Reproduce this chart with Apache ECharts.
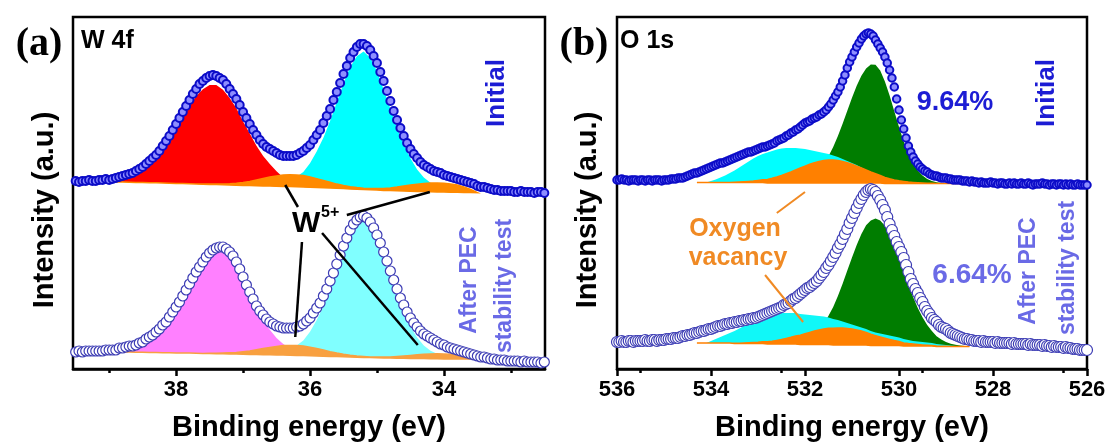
<!DOCTYPE html>
<html><head><meta charset="utf-8">
<script src="https://cdn.jsdelivr.net/npm/echarts@6/dist/echarts.min.js"></script>
<style>html,body{margin:0;padding:0;background:#fff}#c{width:1109px;height:444px}</style>
</head><body><div id="c"></div>
<script>
// ---------- Panel (a) W 4f : measured spectra ----------
const xA = [
39.5,39.45,39.4,39.35,39.3,39.25,39.2,39.15,39.1,39.05,39,38.95,38.9,38.85,38.8,38.75,38.7,38.65,38.6,38.55,
38.5,38.45,38.4,38.35,38.3,38.25,38.2,38.15,38.1,38.05,38,37.95,37.9,37.85,37.8,37.75,37.7,37.65,37.6,37.55,
37.5,37.45,37.4,37.35,37.3,37.25,37.2,37.15,37.1,37.05,37,36.95,36.9,36.85,36.8,36.75,36.7,36.65,36.6,36.55,
36.5,36.45,36.4,36.35,36.3,36.25,36.2,36.15,36.1,36.05,36,35.95,35.9,35.85,35.8,35.75,35.7,35.65,35.6,35.55,
35.5,35.45,35.4,35.35,35.3,35.25,35.2,35.15,35.1,35.05,35,34.95,34.9,34.85,34.8,34.75,34.7,34.65,34.6,34.55,
34.5,34.45,34.4,34.35,34.3,34.25,34.2,34.15,34.1,34.05,34,33.95,33.9,33.85,33.8,33.75,33.7,33.65,33.6,33.55,
33.5,33.45,33.4,33.35,33.3,33.25,33.2,33.15,33.1,33.05,33,32.95,32.9,32.85,32.8,32.75,32.7,32.65,32.6,32.55,32.5];
const initialW = [
188,187,188,188,189,188,188,189,189,190,189,190,191,192,193,194,195,196,198,200,
202,205,208,211,214,218,223,228,233,239,245,251,257,263,269,275,280,285,288,291,
293,294,293,291,289,285,280,275,270,264,257,251,245,239,234,229,225,222,220,218,
216,214,213,213,213,213,214,216,218,221,224,229,234,239,246,253,260,269,277,286,
295,303,311,317,322,325,325,323,319,313,306,297,288,278,268,258,249,241,233,226,
220,215,211,207,204,202,200,198,197,196,194,193,192,191,190,189,188,187,186,185,
183,182,182,181,180,179,179,178,178,178,178,177,177,178,177,177,177,176,177,177,176];
const afterW = [
17,18,17,18,18,18,18,18,18,19,19,19,19,21,21,22,23,23,24,26,
27,30,32,34,37,40,44,47,52,57,62,67,73,79,85,91,97,102,107,112,
116,119,121,122,122,120,117,113,107,100,92,84,77,70,63,58,54,50,47,45,
43,42,41,41,41,41,42,43,45,48,51,56,61,66,73,80,88,96,105,114,
123,131,139,145,149,152,153,151,147,141,134,126,117,108,98,89,80,71,64,57,
51,46,42,38,35,33,31,29,27,25,24,22,21,20,19,18,17,16,15,14,
13,12,12,11,10,10,9,9,9,8,8,8,8,7,8,7,7,7,7,6,7];

// ---------- Panel (a) fitted components (height above baseline) ----------
const xFitA = [
38.9,38.8,38.7,38.6,38.5,38.4,38.3,38.2,38.1,38,
37.9,37.8,37.7,37.6,37.5,37.4,37.3,37.2,37.1,37,
36.9,36.8,36.7,36.6,36.5,36.4,36.3,36.2,36.1,36,
35.9,35.8,35.7,35.6,35.5,35.4,35.3,35.2,35.1,35,
34.9,34.8,34.7,34.6,34.5,34.4,34.3,34.2,34.1,34,
33.9,33.8,33.7,33.6,33.5];
const baseA1 = [
187,187,186.8,186.6,186.5,186.3,186.2,186,185.8,185.6,
185.4,185.2,185,184.8,184.6,184.4,184.2,184,183.8,183.6,
183.4,183.3,183.1,183,182.8,182.6,182.4,182.2,182,181.8,
181.5,181.2,181,180.7,180.4,180.1,179.8,179.5,179.2,178.9,
178.6,178.4,178.2,178,177.8,177.6,177.4,177.2,177,176.9,
176.8,176.7,176.6,176.5,176.4];
const w6a1 = [
0,2,4,7,11,17,24,33,43,54,
66,77,88,95,99.5,99.5,95,87,77,64,
52,40,30,22,15,9,5,3,1,0,
0,0,0,0,0,0,0,0,0,0,
0,0,0,0,0,0,0,0,0,0,
0,0,0,0,0];
const w6b1 = [
0,0,0,0,0,0,0,0,0,0,
0,0,0,0,0,0,0,0,0,0,
0,0,0,0,0,3,6,10,15,24,
36,50,67,86,105,122,133,138,132,119,
101,82,63,47,33,22,14,9,5,2,
0,0,0,0,0];
const w5p1 = [
0,0,0,0,0,0,0,0,0,0,
0,0.1,0.1,0.2,0.3,0.5,0.8,1.3,2,3,
4.2,5.7,7.3,8.9,10.3,11.4,11.9,11.9,11.4,10.3,
8.9,7.3,5.7,4.2,3,2.1,1.6,1.3,1.2,1.5,
1.9,2.7,3.7,4.9,6.1,7.2,8.2,8.8,9,8.8,
8.2,7.2,5.5,3,0];
const baseA2 = [
17,17,16.9,16.8,16.7,16.6,16.5,16.3,16.2,16.1,
16,15.9,15.7,15.6,15.5,15.3,15.2,15.1,14.9,14.8,
14.6,14.5,14.3,14.2,14,13.9,13.7,13.6,13.4,13.2,
13,12.8,12.6,12.4,12.2,12,11.8,11.6,11.4,11.2,
11,10.9,10.8,10.7,10.6,10.5,10.4,10.3,10.2,10.1,
10,10,10,10,10];
const w6a2 = [
0,2,4,7,10,14,19,25,33,43,
54,65,77,89,97,101.5,101.5,95,85,72,
58,45,34,25,17,11,7,4,2,1,
0,0,0,0,0,0,0,0,0,0,
0,0,0,0,0,0,0,0,0,0,
0,0,0,0,0];
const w6b2 = [
0,0,0,0,0,0,0,0,0,0,
0,0,0,0,0,0,0,0,0,0,
0,0,0,0,0,3,6,10,15,24,
36,50,67,85,104,121,132,137,131,118,
100,81,62,46,32,21,13,8,5,2,
0,0,0,0,0];
const w5p2 = [
0,0,0,0,0,0,0,0,0,0,
0,0,0,0,0.2,0.4,0.7,1.1,1.7,2.5,
3.5,4.7,6.1,7.4,8.6,9.5,9.9,9.9,9.5,8.6,
7.4,6.1,4.7,3.5,2.5,1.7,1.2,0.9,0.7,0.7,
0.9,1.2,1.8,2.4,3,3.7,4.3,4.7,5,5,
4.7,4.3,3.7,2,0];

// ---------- Panel (b) O 1s : measured spectra ----------
const xB = [
536,535.95,535.9,535.85,535.8,535.75,535.7,535.65,535.6,535.55,535.5,535.45,535.4,535.35,535.3,535.25,535.2,535.15,535.1,535.05,
535,534.95,534.9,534.85,534.8,534.75,534.7,534.65,534.6,534.55,534.5,534.45,534.4,534.35,534.3,534.25,534.2,534.15,534.1,534.05,
534,533.95,533.9,533.85,533.8,533.75,533.7,533.65,533.6,533.55,533.5,533.45,533.4,533.35,533.3,533.25,533.2,533.15,533.1,533.05,
533,532.95,532.9,532.85,532.8,532.75,532.7,532.65,532.6,532.55,532.5,532.45,532.4,532.35,532.3,532.25,532.2,532.15,532.1,532.05,
532,531.95,531.9,531.85,531.8,531.75,531.7,531.65,531.6,531.55,531.5,531.45,531.4,531.35,531.3,531.25,531.2,531.15,531.1,531.05,
531,530.95,530.9,530.85,530.8,530.75,530.7,530.65,530.6,530.55,530.5,530.45,530.4,530.35,530.3,530.25,530.2,530.15,530.1,530.05,
530,529.95,529.9,529.85,529.8,529.75,529.7,529.65,529.6,529.55,529.5,529.45,529.4,529.35,529.3,529.25,529.2,529.15,529.1,529.05,
529,528.95,528.9,528.85,528.8,528.75,528.7,528.65,528.6,528.55,528.5,528.45,528.4,528.35,528.3,528.25,528.2,528.15,528.1,528.05,
528,527.95,527.9,527.85,527.8,527.75,527.7,527.65,527.6,527.55,527.5,527.45,527.4,527.35,527.3,527.25,527.2,527.15,527.1,527.05,
527,526.95,526.9,526.85,526.8,526.75,526.7,526.65,526.6,526.55,526.5,526.45,526.4,526.35,526.3,526.25,526.2,526.15,526.1,526.05,
526];
const initialO = [
189,189,190,189,189,188,189,189,189,188,189,189,188,189,189,188,189,189,189,188,
189,189,189,190,190,190,191,191,191,192,193,194,195,196,196,197,198,199,200,201,
202,203,204,205,206,206,207,208,209,210,211,212,213,214,215,216,217,217,218,219,
220,221,222,222,223,224,225,226,228,229,230,231,233,234,236,237,239,240,242,244,
246,247,248,250,251,252,254,255,257,259,262,265,269,273,277,282,288,294,301,307,
312,317,322,326,330,333,335,336,335,333,329,325,321,317,312,306,299,291,282,270,
259,249,240,231,223,217,212,208,205,202,200,198,197,195,194,193,193,192,191,191,
191,190,190,189,189,189,189,188,188,188,187,188,187,187,186,187,186,186,186,187,
186,186,185,186,186,185,185,186,185,186,185,185,186,185,185,186,185,184,185,185,
185,186,185,185,184,185,185,184,185,185,184,185,184,185,184,184,185,184,184,184,
184];
const afterO = [
27,27,28,27,27,28,28,27,28,28,28,28,29,28,28,29,29,28,29,29,
29,30,30,30,31,31,31,32,33,33,34,34,35,36,36,37,38,38,39,40,
40,41,42,43,43,44,45,45,46,46,47,47,48,48,49,49,50,50,51,51,
52,53,54,55,56,57,58,59,60,61,62,64,65,66,68,70,71,73,75,77,
79,81,82,84,86,88,91,94,97,101,104,108,112,116,121,125,130,135,140,146,
151,156,161,166,170,174,177,179,180,179,177,173,169,164,159,152,145,139,133,127,
122,117,111,104,97,90,85,80,76,71,67,62,58,55,51,49,47,44,42,41,
40,38,36,35,34,33,32,31,30,30,29,29,28,28,28,27,28,27,27,27,
27,26,27,26,26,26,26,26,25,26,25,25,25,25,25,24,25,24,24,24,
24,23,24,23,23,22,23,22,22,22,21,22,21,21,20,20,20,19,19,19,
19];

// ---------- Panel (b) fitted components (height above baseline) ----------
const xFitB = [
534.3,534.2,534.1,534,533.9,533.8,533.7,533.6,533.5,533.4,
533.3,533.2,533.1,533,532.9,532.8,532.7,532.6,532.5,532.4,
532.3,532.2,532.1,532,531.9,531.8,531.7,531.6,531.5,531.4,
531.3,531.2,531.1,531,530.9,530.8,530.7,530.6,530.5,530.4,
530.3,530.2,530.1,530,529.9,529.8,529.7,529.6,529.5,529.4,
529.3,529.2,529.1,529,528.9,528.8,528.7,528.6,528.5];
const baseB1 = [
186.5,186.5,186.5,186.5,186.5,186.5,186.5,186.5,186.5,186.5,
186.5,186.5,186.5,186.5,186.5,186,186,186,186,186,
186,186,186,186,186,186,186,186,186,186,
186,186,186,186,186,186,186,186,186,186,
185.5,185.5,185.5,185.5,185.5,185.5,185.5,185.5,185.5,185.5,
185.5,185.5,185.5,185.5,185.5,185.5,185.5,185.5,185.5];
const latticeO1 = [
0,0,0,0,0,0,0,0,0,0,
0,0,0,0,0,0,0,0,0,0.4,
0.7,1.3,2.3,3.7,5.9,9,13.4,19.3,26.8,36.1,
47,59.2,72.2,85.2,97.2,107.3,114.6,118.5,118.3,112.6,
102,87.9,72.2,56.4,41.9,29.6,20,12.9,7.9,4.5,
2.5,1.3,0.5,0,0,0,0,0,0];
const hydroxylO1 = [
0,0,0,1.5,3,5,7,9.5,12,15,
18,21,24,26.5,28.5,30.5,32,33.5,34.5,35,
35,35,34.5,34,33,32,31,30,29,27.5,
26,24,22,20,18,15.5,13,11,9,7,
5.5,4,3,2,1.5,1,0.5,0,0,0,
0,0,0,0,0,0,0,0,0];
const vacancyO1 = [
0,0,0,0,0,0,0,0,0.3,0.5,
0.7,1,1.4,2,2.7,3.6,4.7,6,7.5,9.2,
11,13,15,16.9,18.7,20.3,21.6,22.5,22.9,22.9,
22.5,21.6,20.3,18.7,16.9,15,13,11,9.2,7.5,
6,4.7,3.6,2.7,2,1.4,1,0.7,0.5,0.3,
0.2,0.1,0,0,0,0,0,0,0];
const baseB2 = [
26,26,26,26,26,26,26,26,25.5,25.5,
25.5,25.5,25.5,25.5,25.5,25,25,25,25,25,
25,25,24.5,24.5,24.5,24.5,24.5,24.5,24.5,24,
24,24,24,24,24,24,24,23.5,23.5,23.5,
23.5,23.5,23.5,23.5,23,23,23,23,23,23,
23,22.5,22.5,22.5,22.5,22.5,22.5,22.5,22.5];
const latticeO2 = [
0,0,0,0,0,0,0,0,0,0,
0,0,0,0,0,0,0,0,0.3,0.6,
1,1.7,2.8,4.5,6.9,10.3,15,21,28.7,38.1,
49,61.3,74.4,87.6,100.1,111.1,119.7,125.1,127,125.1,
119.7,111.1,100.1,87.6,74.4,61.3,49,38.1,28.7,21,
15,10.3,6.9,4.5,2.8,1.7,1,0.6,0.3];
const hydroxylO2 = [
0,0,0,2,4,6,8,10,12.5,15,
17.5,20,22.5,24.5,26.5,28,29.5,30.5,31,31,
31,31,30.5,30,29.5,29,28.5,28,27,26,
25,23.5,22,20.5,19,17.5,16,14.5,13,12,
11,10,9,8,7,6,5,4.5,4,3.5,
3,2.5,2,1.5,1,0.5,0,0,0];
const vacancyO2 = [
0,0,0,0,0,0,0,0,0.2,0.3,
0.45,0.64,0.9,1.2,1.65,2.2,2.8,3.6,4.5,5.6,
6.7,8,9.3,10.7,12.1,13.4,14.5,15.5,16.3,16.8,
17,16.9,16.5,15.9,15,13.9,12.6,11.3,9.9,8.5,
7.2,6,4.9,4,3.1,2.4,1.9,1.4,1,0.7,
0.5,0.4,0.25,0.15,0.1,0,0,0,0];

// tick labels
const ticksA = [34, 36, 38];
const ticksB = [526, 528, 530, 532, 534, 536];
// annotation leader lines [x1, y1, x2, y2] in data units
const leaderA = [[36.37,184,36.18,162],[35.45,154,34.21,177],[36.12,127,36.22,32],[35.82,136,34.39,24]];
const leaderB = [[532.60,156,532.0,177],[532.85,94,532.04,47]];

// ---------------- build chart ----------------
const SANS = '"Liberation Sans", Arial, Helvetica, sans-serif';
const SERIF = '"Liberation Serif", "Times New Roman", serif';
const chart = echarts.init(document.getElementById('c'), null, {renderer: 'canvas'});

function fillSeries(ax, xs, base, comp, color, stroke, z) {
  const data = xs.map(function (x, i) { return [x, base[i], base[i] + comp[i]]; });
  return {
    type: 'custom', xAxisIndex: ax, yAxisIndex: ax, z: z, silent: true, animation: false,
    data: data, encode: {x: 0, y: [1, 2]},
    renderItem: function (params, api) {
      if (params.dataIndex !== 0) return null;
      const top = [], bot = [];
      for (let i = 0; i < data.length; i++) {
        top.push(api.coord([data[i][0], data[i][2]]));
        bot.push(api.coord([data[i][0], data[i][1]]));
      }
      bot.reverse();
      return {type: 'polygon', shape: {points: top.concat(bot)},
        style: {fill: color, stroke: stroke || null, lineWidth: stroke ? 1.5 : 0}};
    }
  };
}
function scatterSeries(ax, xs, ys, style, z) {
  return {
    type: 'scatter', xAxisIndex: ax, yAxisIndex: ax, z: z, silent: true, animation: false,
    symbol: 'circle', symbolSize: style.size,
    itemStyle: {color: style.fill, borderColor: style.border, borderWidth: style.bw, opacity: 1},
    data: xs.map(function (x, i) { return [x, ys[i]]; })
  };
}
function leaderSeries(ax, segs, color, w) {
  return {
    type: 'custom', xAxisIndex: ax, yAxisIndex: ax, z: 20, silent: true, animation: false,
    data: segs,
    renderItem: function (params, api) {
      const p1 = api.coord([api.value(0), api.value(1)]);
      const p2 = api.coord([api.value(2), api.value(3)]);
      return {type: 'line', shape: {x1: p1[0], y1: p1[1], x2: p2[0], y2: p2[1]},
        style: {stroke: color, lineWidth: w}};
    }
  };
}
function xAxisCfg(grid, min, max, ticks) {
  return {
    gridIndex: grid, type: 'value', min: min, max: max, inverse: true, splitNumber: 3,
    axisLine: {show: true, onZero: false, lineStyle: {color: '#000', width: 2.5}},
    axisTick: {show: true, inside: false, length: 7, lineStyle: {color: '#000', width: 2.5}, customValues: ticks},
    minorTick: {show: true, splitNumber: 2, length: 4, lineStyle: {color: '#000', width: 2.5}},
    axisLabel: {show: true, customValues: ticks, margin: 10, color: '#000', fontSize: 22,
      fontWeight: 'bold', fontFamily: SANS},
    splitLine: {show: false}, minorSplitLine: {show: false}
  };
}
function yAxisCfg(grid) {
  return {gridIndex: grid, type: 'value', min: 0, max: 352, show: false, splitLine: {show: false}};
}

const upStyleW = {size: 8, fill: '#8e8eff', border: '#0c0cc8', bw: 2};
const upStyleO = {size: 7.5, fill: '#8e8eff', border: '#0c0cc8', bw: 2};
const loStyleW = {size: 10, fill: '#ffffff', border: '#3c3cb4', bw: 1.2};
const loStyleO = {size: 11, fill: '#ffffff', border: '#3c3cb4', bw: 1.2};

const series = [
  fillSeries(0, xFitA, baseA1, w6a1, '#ff0000', null, 2),
  fillSeries(0, xFitA, baseA1, w6b1, '#00ffff', null, 2),
  fillSeries(0, xFitA, baseA1, w5p1, '#ff8a00', '#ff8a00', 3),
  fillSeries(0, xFitA, baseA2, w6a2, '#ff80ff', null, 2),
  fillSeries(0, xFitA, baseA2, w6b2, '#80ffff', null, 2),
  fillSeries(0, xFitA, baseA2, w5p2, '#f8a040', '#f8a040', 3),
  fillSeries(1, xFitB, baseB1, latticeO1, '#007d00', null, 2),
  fillSeries(1, xFitB, baseB1, hydroxylO1, '#00ffff', null, 2),
  fillSeries(1, xFitB, baseB1, vacancyO1, '#ff8000', '#ff8000', 3),
  fillSeries(1, xFitB, baseB2, latticeO2, '#007d00', null, 2),
  fillSeries(1, xFitB, baseB2, hydroxylO2, '#10f8f8', null, 2),
  fillSeries(1, xFitB, baseB2, vacancyO2, '#ff8000', '#ff8000', 3),
  scatterSeries(0, xA, initialW, upStyleW, 10),
  scatterSeries(0, xA, afterW, loStyleW, 11),
  scatterSeries(1, xB, initialO, upStyleO, 10),
  scatterSeries(1, xB, afterO, loStyleO, 11),
  leaderSeries(0, leaderA, '#000000', 2.5),
  leaderSeries(1, leaderB, '#f08a24', 2)
];

function txt(text, x, y, size, color, opts) {
  opts = opts || {};
  return {
    type: 'text', x: x, y: y, z: 100, rotation: opts.rot ? Math.PI / 2 : 0, silent: true,
    style: {text: text, fill: color, font: 'bold ' + size + 'px ' + (opts.family || SANS),
      textAlign: opts.align || 'center', align: opts.align || 'center',
      textVerticalAlign: 'middle', verticalAlign: 'middle'}
  };
}
const BLUE = '#1c1cd4', PURPLE = '#6a6ae6', ORANGE = '#f08a24';
const graphics = [
  txt('(a)', 39, 45, 40, '#000', {family: SERIF}),
  txt('(b)', 584, 45, 40, '#000', {family: SERIF}),
  txt('W 4f', 81, 41, 25, '#000', {align: 'left'}),
  txt('O 1s', 620, 41, 25, '#000', {align: 'left'}),
  txt('Initial', 497, 93, 26, BLUE, {rot: true}),
  txt('Initial', 1047, 93, 26, BLUE, {rot: true}),
  txt('After PEC', 470, 280, 23, PURPLE, {rot: true}),
  txt('stability test', 505, 286, 23, PURPLE, {rot: true}),
  txt('After PEC', 1029, 271, 23, PURPLE, {rot: true}),
  txt('stability test', 1068, 268, 23, PURPLE, {rot: true}),
  txt('9.64%', 955, 103, 27, BLUE),
  txt('6.64%', 972, 275, 28, PURPLE),
  txt('Oxygen', 735, 229, 25, ORANGE),
  txt('vacancy', 738, 258, 25, ORANGE),
  txt('W', 292, 224, 30, '#000', {align: 'left'}),
  txt('5+', 321, 213, 16, '#000', {align: 'left'}),
  txt('Binding energy (eV)', 309, 428, 29, '#000'),
  txt('Binding energy (eV)', 852, 428, 29, '#000'),
  txt('Intensity (a.u.)', 45, 210, 29, '#000', {rot: true}),
  txt('Intensity (a.u.)', 588, 210, 29, '#000', {rot: true})
];

// sanity check on array lengths (shows a red note only if something is off)
const checks = [[xA, initialW], [xA, afterW], [xB, initialO], [xB, afterO],
  [xFitA, baseA1], [xFitA, w6a1], [xFitA, w6b1], [xFitA, w5p1], [xFitA, baseA2], [xFitA, w6a2], [xFitA, w6b2], [xFitA, w5p2],
  [xFitB, baseB1], [xFitB, latticeO1], [xFitB, hydroxylO1], [xFitB, vacancyO1], [xFitB, baseB2], [xFitB, latticeO2], [xFitB, hydroxylO2], [xFitB, vacancyO2]];
const bad = [];
checks.forEach(function (p, i) { if (p[0].length !== p[1].length) bad.push(i + ':' + p[0].length + '/' + p[1].length); });
if (bad.length) graphics.push(txt('LEN ' + bad.join(' '), 550, 8, 10, '#f00'));

chart.setOption({
  animation: false,
  backgroundColor: '#ffffff',
  grid: [
    {left: 73, right: 1109 - 545, top: 17, bottom: 444 - 369, show: true, borderColor: '#000', borderWidth: 2.5, containLabel: false},
    {left: 617, right: 1109 - 1087, top: 17, bottom: 444 - 369, show: true, borderColor: '#000', borderWidth: 2.5, containLabel: false}
  ],
  xAxis: [xAxisCfg(0, 32.49, 39.54, ticksA), xAxisCfg(1, 526, 536, ticksB)],
  yAxis: [yAxisCfg(0), yAxisCfg(1)],
  series: series,
  graphic: graphics
});
</script></body></html>
